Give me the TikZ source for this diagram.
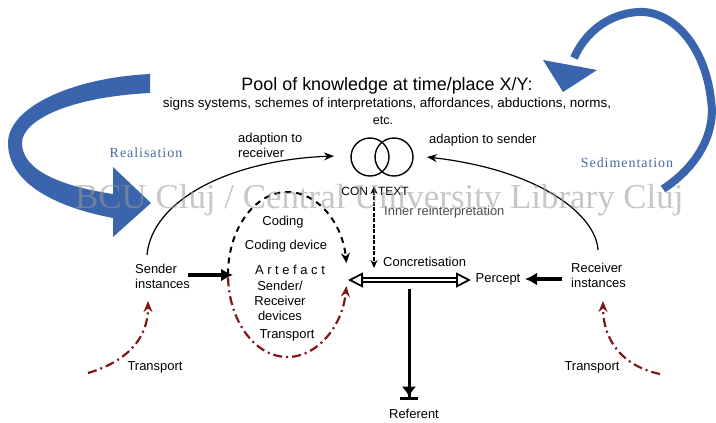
\documentclass[tikz,border=0pt]{standalone}
\usepackage{fontspec}
\setmainfont{Liberation Sans}
\newfontfamily\wmfont{Liberation Serif}
\newfontfamily\blueserif[LetterSpace=7]{Liberation Serif}
\usetikzlibrary{arrows.meta}
\definecolor{bandblue}{RGB}{58,100,172}
\definecolor{labelblue}{RGB}{70,105,165}
\definecolor{darkred}{RGB}{128,22,22}
\begin{document}
\begin{tikzpicture}[x=1bp,y=-1bp,
  lbl/.style={font=\fontsize{13}{15}\selectfont, inner sep=0pt, align=center},
  thinarrow/.style={line width=1.2bp, -{Stealth[length=10bp,width=8bp]}},
  thickarrow/.style={line width=3.2bp, -{Latex[length=12bp,width=13bp]}},
  redpath/.style={draw=darkred, line width=2.2bp, dash pattern=on 9bp off 4bp on 2bp off 4bp, -{Stealth[length=11bp,width=9bp]}},
  blackdash/.style={line width=2bp, dash pattern=on 6bp off 5bp, -{Stealth[length=10bp,width=9bp]}},
  ring/.style={draw, circle, line width=1.4bp, minimum size=38bp, inner sep=0pt},
  bluelbl/.style={font=\blueserif\fontsize{14}{16}\selectfont, text=labelblue, inner sep=0pt},
]
\useasboundingbox (0,0) rectangle (716,422);
\fill[white] (0,0) rectangle (716,422);

% ---- big blue curved arrows ----
\fill[bandblue] (150,74) .. controls (70,78) and (8,108) .. (8,143)
  .. controls (8,185) and (60,208) .. (113,218) -- (113,237) -- (151,203)
  -- (113,167) -- (113,194) .. controls (60,186) and (22,170) .. (22,143)
  .. controls (22,120) and (70,97) .. (150,93) -- cycle;
\draw[bandblue, line width=8bp] (663,189) .. controls (700,165) and (716,130) .. (711,100)
  .. controls (705,45) and (672,10) .. (638,12) .. controls (606,14) and (584,35) .. (574,58);
\fill[bandblue] (543,60) -- (597,70) -- (563,92) -- cycle;

\node[bluelbl] (real) at (146,153) {Realisation};
\node[bluelbl] (sedi) at (627,163) {Sedimentation};

% ---- title ----
\node[font=\fontsize{18}{20}\selectfont, inner sep=0pt] (title) at (387,86) {Pool of knowledge at time/place X/Y:};
\node[font=\fontsize{13.5}{15}\selectfont, inner sep=0pt] (sub) at (387,104) {signs systems, schemes of interpretations, affordances, abductions, norms,};
\node[font=\fontsize{12.5}{14}\selectfont, inner sep=0pt] (etc) at (383,121) {etc.};

% ---- context circles ----
\node[ring] (c1) at (370,157) {};
\node[ring] (c2) at (394,157) {};
\node[font=\fontsize{12}{14}\selectfont, inner sep=0pt] (context) at (375,191) {CON\hspace{10bp}TEXT};

% ---- labels ----
\node[lbl, align=left, anchor=west] (adrec) at (238,145) {adaption to\\receiver};
\node[lbl, anchor=west] (adsen) at (429,140) {adaption to sender};
\node[lbl, anchor=west, text=black!70] (inner) at (384,212) {Inner reinterpretation};
\node[lbl, anchor=west] (concr) at (383,262) {Concretisation};
\node[lbl] (percept) at (498,279) {Percept};
\node[lbl, align=left, anchor=west] (recv) at (571,275) {Receiver\\instances};
\node[lbl, align=left, anchor=west] (send) at (135,276) {Sender\\instances};
\node[lbl] (coding) at (283,222) {Coding};
\node[lbl] (cdev) at (286,246) {Coding device};
\node[lbl] (artef) at (290,270) {A r t e f a c t};
\node[lbl] (srd) at (280,301) {Sender/\\Receiver\\devices};
\node[lbl] (transin) at (287,335) {Transport};
\node[lbl] (transl) at (155,367) {Transport};
\node[lbl] (transr) at (592,367) {Transport};
\node[lbl] (referent) at (414,414) {Referent};

% ---- coordinates ----
\coordinate (sendtop) at (147,255);
\coordinate (ctxleft) at (334,156);
\coordinate (recvtop) at (598,250);
\coordinate (ctxright) at (427,157);
\coordinate (sendout) at (188,275);
\coordinate (artin) at (233,275);
\coordinate (recvout) at (562,279);
\coordinate (percin) at (525,279);
\coordinate (vtop) at (374,186);
\coordinate (vbot) at (374,268);
\coordinate (hl) at (348,280);
\coordinate (hr) at (471,280);
\coordinate (dtop) at (409,289);
\coordinate (dbot) at (409,400);
\coordinate (ltr) at (88,373);
\coordinate (ltrend) at (148,301);
\coordinate (rtr) at (660,374);
\coordinate (rtrend) at (603,301);
\coordinate (ellc) at (287.5,274.5);

% ---- connectors ----
\draw[thinarrow] (sendtop) .. controls (152,200) and (230,160) .. (ctxleft);
\draw[thinarrow] (recvtop) .. controls (596,215) and (540,170) .. (ctxright);
\draw[thickarrow] (sendout) -- (artin);
\draw[thickarrow] (recvout) -- (percin);
\draw[line width=2bp, dash pattern=on 4bp off 1.5bp,
  {Stealth[length=8bp,width=7bp]}-{Stealth[length=8bp,width=7bp]}] (vtop) -- (vbot);
\draw[double, double distance=2bp, line width=1.8bp,
  {Triangle[open,length=15bp,width=15bp]}-{Triangle[open,length=15bp,width=15bp]}] (hl) -- (hr);
\draw[line width=3bp, -{Latex[length=10bp,width=15bp] Bar[width=18bp,line width=3.5bp]}] (dtop) -- (dbot);

% ellipse: black dashed upper part, red dash-dot lower part
\draw[blackdash] (ellc) ++(180:59.5 and 82.5) arc[start angle=180, end angle=352, x radius=59.5, y radius=82.5];
\draw[redpath] (ellc) ++(178:59.5 and 82.5) arc[start angle=178, end angle=8, x radius=59.5, y radius=82.5];

% transport arrows
\draw[redpath] (ltr) .. controls (125,362) and (148,340) .. (ltrend);
\draw[redpath] (rtr) .. controls (622,366) and (603,340) .. (rtrend);

% ---- watermark ----
\node[font=\wmfont\fontsize{35}{40}\selectfont, text=black!40, text opacity=0.55, inner sep=0pt, anchor=base west] (wm) at (75,208) {BCU Cluj / Central University Library Cluj};
\end{tikzpicture}
\end{document}
